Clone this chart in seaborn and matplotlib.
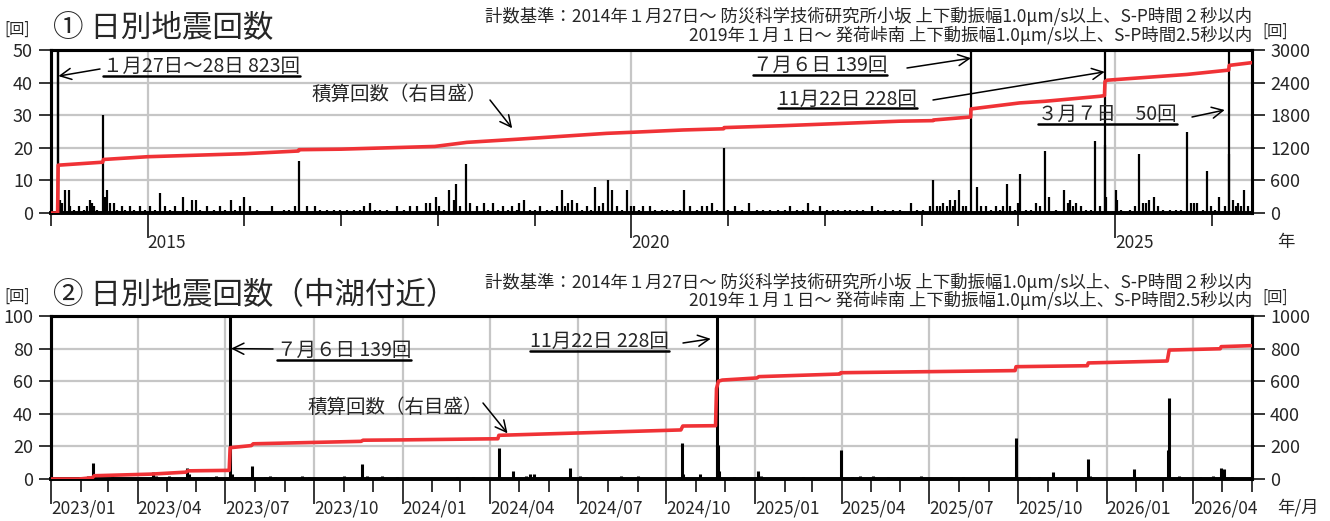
import numpy as np
import pandas as pd
import matplotlib
matplotlib.use("Agg")
import matplotlib.pyplot as plt
import matplotlib.dates as mdates
from matplotlib.lines import Line2D
from matplotlib.transforms import IdentityTransform
import seaborn as sns

# ------------------------------------------------------------------ data
# Panel 1: daily counts (all area)
top_dates = [
    "2014-01-27", "2014-01-28", "2014-02-05", "2014-02-11", "2014-02-24", "2014-03-09", "2014-03-15",
    "2014-03-28", "2014-04-15", "2014-05-04", "2014-05-17", "2014-05-29", "2014-06-05", "2014-06-11",
    "2014-06-24", "2014-07-16", "2014-07-25", "2014-07-31", "2014-08-13", "2014-08-25", "2014-09-07",
    "2014-09-26", "2014-10-08", "2014-10-27", "2014-11-09", "2014-12-04", "2014-12-23", "2015-01-11",
    "2015-01-30", "2015-02-18", "2015-03-08", "2015-03-27", "2015-04-15", "2015-05-14", "2015-05-29",
    "2015-06-17", "2015-07-02", "2015-07-19", "2015-08-13", "2015-09-07", "2015-10-02", "2015-10-21",
    "2015-11-10", "2015-11-28", "2015-12-16", "2016-01-01", "2016-01-23", "2016-02-17", "2016-04-14",
    "2016-05-28", "2016-06-16", "2016-07-11", "2016-07-24", "2016-08-24", "2016-09-24", "2016-10-13",
    "2016-11-08", "2016-12-03", "2016-12-28", "2017-01-22", "2017-02-16", "2017-03-13", "2017-03-26",
    "2017-04-20", "2017-05-09", "2017-05-28", "2017-06-22", "2017-07-30", "2017-08-24", "2017-09-18",
    "2017-10-13", "2017-11-17", "2017-12-02", "2017-12-25", "2018-01-03", "2018-01-22", "2018-02-12",
    "2018-03-04", "2018-03-11", "2018-03-26", "2018-04-17", "2018-05-03", "2018-05-28", "2018-06-22",
    "2018-07-10", "2018-07-29", "2018-08-17", "2018-09-05", "2018-09-24", "2018-10-07", "2018-10-25",
    "2018-11-04", "2018-11-22", "2018-12-15", "2019-01-03", "2019-01-21", "2019-02-16", "2019-03-06",
    "2019-03-28", "2019-04-13", "2019-04-26", "2019-05-05", "2019-05-21", "2019-06-09", "2019-06-28",
    "2019-07-17", "2019-08-02", "2019-08-17", "2019-09-01", "2019-09-17", "2019-10-05", "2019-10-21",
    "2019-11-07", "2019-11-26", "2019-12-15", "2019-12-30", "2020-01-11", "2020-01-28", "2020-02-15",
    "2020-03-12", "2020-03-30", "2020-04-25", "2020-05-13", "2020-06-08", "2020-07-03", "2020-07-19",
    "2020-08-10", "2020-09-04", "2020-09-23", "2020-10-11", "2020-11-02", "2020-11-18", "2020-12-15",
    "2021-01-01", "2021-01-26", "2021-02-21", "2021-03-21", "2021-04-18", "2021-05-13", "2021-06-07",
    "2021-07-09", "2021-08-03", "2021-08-22", "2021-09-16", "2021-10-11", "2021-10-30", "2021-11-18",
    "2021-12-13", "2022-01-07", "2022-02-01", "2022-02-20", "2022-03-18", "2022-04-05", "2022-05-01",
    "2022-05-26", "2022-06-26", "2022-07-21", "2022-08-15", "2022-09-16", "2022-10-11", "2022-11-22",
    "2022-12-13", "2023-01-07", "2023-02-01", "2023-02-14", "2023-02-26", "2023-03-11", "2023-03-24",
    "2023-04-05", "2023-04-17", "2023-04-30", "2023-05-07", "2023-05-22", "2023-06-06", "2023-06-19",
    "2023-07-06", "2023-07-29", "2023-08-14", "2023-09-02", "2023-09-21", "2023-10-10", "2023-10-22",
    "2023-11-04", "2023-11-20", "2023-11-29", "2023-12-18", "2023-12-31", "2024-01-08", "2024-01-31",
    "2024-02-19", "2024-03-09", "2024-03-21", "2024-04-10", "2024-04-25", "2024-05-23", "2024-06-23",
    "2024-07-06", "2024-07-13", "2024-07-25", "2024-08-07", "2024-08-26", "2024-09-14", "2024-10-02",
    "2024-10-17", "2024-11-03", "2024-11-22", "2024-11-23", "2024-11-25", "2025-01-04", "2025-01-07",
    "2025-01-24", "2025-02-24", "2025-03-15", "2025-03-31", "2025-04-15", "2025-04-28", "2025-05-10",
    "2025-05-26", "2025-06-11", "2025-06-30", "2025-07-25", "2025-08-19", "2025-09-07", "2025-09-29",
    "2025-10-12", "2025-10-25", "2025-11-06", "2025-11-28", "2025-12-13", "2025-12-29", "2026-01-11",
    "2026-01-29", "2026-02-18", "2026-03-06", "2026-03-07", "2026-03-21", "2026-04-03", "2026-04-09",
    "2026-04-21", "2026-04-30", "2026-05-18",
]
top_counts = [
    480, 343, 4, 3, 7, 7, 2,
    1, 2, 1, 2, 4, 3, 2,
    1, 30, 5, 7, 3, 3, 1,
    2, 1, 2, 1, 2, 1, 2,
    1, 6, 2, 1, 2, 5, 1,
    4, 4, 1, 2, 1, 2, 1,
    4, 1, 2, 5, 2, 1, 2,
    1, 1, 2, 16, 2, 2, 1,
    1, 1, 1, 1, 1, 1, 2,
    3, 1, 1, 1, 2, 1, 2,
    2, 3, 3, 5, 2, 1, 7,
    4, 9, 2, 15, 3, 2, 3,
    1, 3, 1, 2, 1, 2, 1,
    3, 4, 1, 1, 2, 1, 1,
    2, 7, 2, 3, 4, 3, 1,
    2, 1, 8, 2, 3, 10, 7,
    2, 1, 7, 2, 2, 1, 2,
    2, 1, 1, 1, 1, 1, 7,
    2, 1, 2, 2, 3, 1, 20,
    1, 2, 1, 3, 1, 1, 1,
    1, 1, 2, 1, 1, 3, 1,
    2, 1, 1, 1, 1, 1, 1,
    1, 2, 1, 1, 1, 1, 3,
    1, 1, 2, 10, 2, 2, 3,
    2, 4, 2, 4, 7, 2, 2,
    139, 8, 2, 2, 1, 2, 1,
    2, 9, 2, 1, 3, 12, 1,
    1, 3, 2, 19, 5, 1, 7,
    3, 4, 2, 3, 2, 1, 1,
    22, 2, 228, 21, 5, 7, 4,
    1, 1, 2, 18, 3, 3, 4,
    5, 2, 1, 1, 1, 1, 25,
    3, 3, 3, 1, 13, 2, 1,
    5, 2, 18, 50, 4, 2, 3,
    2, 7, 2,
]
# Panel 1: cumulative count (right scale)
top_cum_dates = [
    "2014-01-01", "2014-01-26", "2014-01-28", "2014-07-15", "2014-07-18", "2015-01-01", "2016-01-01",
    "2016-07-23", "2016-07-25", "2017-01-01", "2017-12-20", "2018-04-20", "2018-10-25", "2019-09-30",
    "2020-01-01", "2020-07-14", "2020-12-14", "2020-12-16", "2021-07-27", "2022-10-11", "2023-02-13",
    "2023-02-15", "2023-07-05", "2023-07-06", "2024-01-06", "2024-04-10", "2024-11-03", "2024-11-21",
    "2024-11-23", "2024-12-01", "2025-09-28", "2026-03-05", "2026-03-07", "2026-05-31",
]
top_cum_values = [
    0, 0, 880, 935, 985, 1036, 1091,
    1141, 1165, 1175, 1225, 1300, 1357, 1466,
    1485, 1528, 1550, 1572, 1607, 1690, 1700,
    1712, 1767, 1915, 2026, 2056, 2148, 2160,
    2420, 2444, 2550, 2630, 2717, 2767,
]

# Panel 2: daily counts (中湖付近)
bot_dates = [
    "2023-02-01", "2023-02-08", "2023-02-10", "2023-02-14", "2023-02-16", "2023-03-05", "2023-04-17",
    "2023-04-20", "2023-05-04", "2023-05-22", "2023-05-24", "2023-06-12", "2023-06-21", "2023-07-06",
    "2023-07-08", "2023-07-12", "2023-07-15", "2023-07-18", "2023-07-22", "2023-07-25", "2023-07-29",
    "2023-08-11", "2023-08-16", "2023-08-22", "2023-09-19", "2023-09-26", "2023-11-01", "2023-11-20",
    "2023-11-25", "2023-12-11", "2023-12-26", "2024-02-27", "2024-03-14", "2024-04-10", "2024-04-25",
    "2024-05-08", "2024-05-12", "2024-05-16", "2024-06-23", "2024-07-03", "2024-07-09", "2024-08-15",
    "2024-09-02", "2024-10-14", "2024-10-17", "2024-10-18", "2024-11-05", "2024-11-22", "2024-11-23",
    "2024-11-24", "2024-11-25", "2024-12-10", "2025-01-04", "2025-01-07", "2025-02-20", "2025-03-31",
    "2025-04-12", "2025-04-20", "2025-05-04", "2025-05-19", "2025-06-22", "2025-07-23", "2025-08-05",
    "2025-09-29", "2025-10-12", "2025-10-23", "2025-11-06", "2025-12-13", "2025-12-15", "2026-01-29",
    "2026-03-06", "2026-03-07", "2026-03-17", "2026-04-01", "2026-04-08", "2026-04-22", "2026-04-30",
    "2026-05-03", "2026-05-11",
]
bot_counts = [
    1, 2, 1, 10, 2, 1, 4,
    2, 2, 7, 3, 1, 2, 139,
    3, 1, 1, 1, 1, 1, 8,
    1, 2, 1, 2, 1, 2, 9,
    2, 2, 1, 1, 1, 19, 5,
    2, 3, 3, 7, 2, 1, 2,
    2, 1, 22, 3, 3, 228, 21,
    21, 5, 1, 5, 2, 1, 18,
    1, 2, 2, 1, 2, 1, 1,
    25, 1, 1, 4, 12, 2, 6,
    18, 50, 2, 1, 1, 2, 7,
    6, 1,
]
# Panel 2: cumulative count (right scale)
bot_cum_dates = [
    "2023-01-01", "2023-01-30", "2023-02-13", "2023-02-15", "2023-04-15", "2023-05-21", "2023-05-23",
    "2023-07-05", "2023-07-06", "2023-07-28", "2023-07-30", "2023-11-19", "2023-11-21", "2024-01-01",
    "2024-04-09", "2024-04-10", "2024-10-16", "2024-10-18", "2024-11-21", "2024-11-22", "2024-11-24",
    "2024-11-28", "2025-01-03", "2025-01-05", "2025-03-30", "2025-03-31", "2025-09-28", "2025-09-29",
    "2025-12-12", "2025-12-13", "2026-03-05", "2026-03-07", "2026-04-29", "2026-04-30", "2026-05-31",
]
bot_cum_values = [
    0, 0, 8, 20, 30, 42, 50,
    53, 192, 205, 216, 231, 238, 240,
    247, 268, 301, 325, 327, 555, 600,
    607, 620, 628, 644, 652, 665, 689,
    695, 712, 724, 791, 799, 812, 818,
]

top_xlim = ["2014-01-01", "2026-06-01"]
bot_xlim = ["2023-01-01", "2026-06-01"]
top_major_ticks = ["2015-01-01", "2020-01-01", "2025-01-01"]
top_major_labels = ["2015", "2020", "2025"]
bot_major_ticks = ["2023-01-01", "2023-04-01", "2023-07-01", "2023-10-01", "2024-01-01", "2024-04-01",
                   "2024-07-01", "2024-10-01", "2025-01-01", "2025-04-01", "2025-07-01", "2025-10-01",
                   "2026-01-01", "2026-04-01"]
bot_major_labels = ["2023/01", "2023/04", "2023/07", "2023/10", "2024/01", "2024/04", "2024/07",
                    "2024/10", "2025/01", "2025/04", "2025/07", "2025/10", "2026/01", "2026/04"]
top_left_ticks = [0, 10, 20, 30, 40, 50]
top_right_ticks = [0, 600, 1200, 1800, 2400, 3000]
bot_left_ticks = [0, 20, 40, 60, 80, 100]
bot_right_ticks = [0, 200, 400, 600, 800, 1000]

hdr1 = "計数基準：2014年１月27日～ 防災科学技術研究所小坂 上下動振幅1.0μm/s以上、S-P時間２秒以内"
hdr2 = "2019年１月１日～ 発荷峠南 上下動振幅1.0μm/s以上、S-P時間2.5秒以内"

# ------------------------------------------------------------------ style
sns.set_style("white")
plt.rcParams['font.family'] = ['Noto Sans CJK JP', 'DejaVu Sans']
plt.rcParams['axes.unicode_minus'] = False

W, H = 1330, 521
RED = "#f03236"
GRID = "#c6c6c6"
fig = plt.figure(figsize=(W / 100, H / 100), dpi=100)


def fxy(px, py):
    return (px / W, 1 - py / H)


def panel(top_px, bot_px, dates, counts, cdates, cvals, xlim, majt, majl, minor_loc,
          lticks, rticks, bar_lw):
    ax = fig.add_axes([51 / W, 1 - bot_px / H, (1252 - 51) / W, (bot_px - top_px) / H])
    d = pd.to_datetime(dates)
    ax.vlines(d, 0, counts, color="black", lw=bar_lw, zorder=3)
    ax.set_xlim(pd.to_datetime(xlim[0]), pd.to_datetime(xlim[1]))
    ax.set_ylim(lticks[0], lticks[-1])
    ax.set_yticks(lticks)
    ax.set_xticks(pd.to_datetime(majt), labels=majl, ha="left")
    ax.xaxis.set_minor_locator(minor_loc)
    ax.grid(True, which="major", color=GRID, lw=1.6, zorder=0)
    ax.set_axisbelow(True)
    ax.tick_params(axis="y", direction="out", length=9, width=1.3, labelsize=13, pad=4, left=True)
    ax.tick_params(axis="x", which="major", direction="out", length=18, width=1.3,
                   labelsize=12.5, pad=-3, bottom=True)
    ax.tick_params(axis="x", which="minor", direction="out", length=9.5, width=1.3, bottom=True)
    for s in ax.spines.values():
        s.set_linewidth(2.2)
        s.set_color("black")
    ax.spines["bottom"].set_linewidth(2.6)

    ax2 = ax.twinx()
    sns.lineplot(x=pd.to_datetime(cdates), y=cvals, ax=ax2, color=RED, lw=2.6,
                 estimator=None, sort=False, zorder=5)
    ax2.set_ylim(rticks[0], rticks[-1])
    ax2.set_yticks(rticks)
    ax2.set_ylabel("")
    ax2.set_xlabel("")
    ax.set_xlabel("")
    ax2.tick_params(axis="y", direction="out", length=9, width=1.3, labelsize=13, pad=4, right=True)
    for s in ax2.spines.values():
        s.set_linewidth(2.2)
        s.set_color("black")
    ax2.spines["bottom"].set_linewidth(2.6)
    return ax, ax2


ax1, ax1r = panel(50, 213, top_dates, top_counts, top_cum_dates, top_cum_values, top_xlim,
                  top_major_ticks, top_major_labels, mdates.YearLocator(1),
                  top_left_ticks, top_right_ticks, 1.6)
ax2, ax2r = panel(316, 479, bot_dates, bot_counts, bot_cum_dates, bot_cum_values, bot_xlim,
                  bot_major_ticks, bot_major_labels, mdates.MonthLocator(),
                  bot_left_ticks, bot_right_ticks, 2.2)

# ------------------------------------------------------------------ texts
def ftext(px, py, s, size, ha="left", va="center"):
    return fig.text(*fxy(px, py), s, fontsize=size, ha=ha, va=va)


ftext(4, 29, "[回]", 11)
ftext(53, 28, "① 日別地震回数", 22)
ftext(1252, 16, hdr1, 12.5, ha="right")
ftext(1252, 35, hdr2, 12.5, ha="right")
ftext(1262, 31, "[回]", 11)
ftext(1277, 242, "年", 12.5)

ftext(4, 296, "[回]", 11)
ftext(53, 296, "② 日別地震回数（中湖付近）", 22)
ftext(1252, 282, hdr1, 12.5, ha="right")
ftext(1252, 300, hdr2, 12.5, ha="right")
ftext(1262, 297, "[回]", 11)
ftext(1277, 508, "年/月", 12.5)

underlined = []
underlined.append(ftext(103, 66, "１月27日～28日 823回", 14))
underlined.append(ftext(753, 65, "７月６日 139回", 14))
underlined.append(ftext(778, 99, "11月22日 228回", 14))
underlined.append(ftext(1038, 114, "３月７日　50回", 14))
ftext(312, 94, "積算回数（右目盛）", 14)

underlined.append(ftext(277, 350, "７月６日 139回", 14))
underlined.append(ftext(530, 341, "11月22日 228回", 14))
ftext(308, 407, "積算回数（右目盛）", 14)

arrow_kw = dict(arrowstyle="->", lw=1.1, color="black", mutation_scale=20, shrinkA=0, shrinkB=0)


def arrow(ax, from_px, to_date, to_val):
    ax.annotate("", xy=(pd.to_datetime(to_date), to_val), xycoords="data",
                xytext=fxy(*from_px), textcoords="figure fraction",
                arrowprops=arrow_kw, annotation_clip=False)


arrow(ax1, (100, 69), "2014-01-29", 42)
arrow(ax1, (490, 100), "2018-10-08", 26)
arrow(ax1, (907, 68), "2023-07-06", 47.5)
arrow(ax1, (933, 100), "2024-11-22", 43.3)
arrow(ax1, (1192, 117), "2026-02-18", 31.6)

arrow(ax2, (273, 349), "2023-07-07", 80)
arrow(ax2, (483, 403), "2024-04-19", 28)
arrow(ax2, (683, 343), "2024-11-16", 86)

fig.canvas.draw()
for t in underlined:
    bb = t.get_window_extent()
    fig.add_artist(Line2D([bb.x0, bb.x1], [bb.y0 + 1, bb.y0 + 1], color="black", lw=1.8,
                          transform=IdentityTransform()))

fig.savefig("out.png", dpi=100)
